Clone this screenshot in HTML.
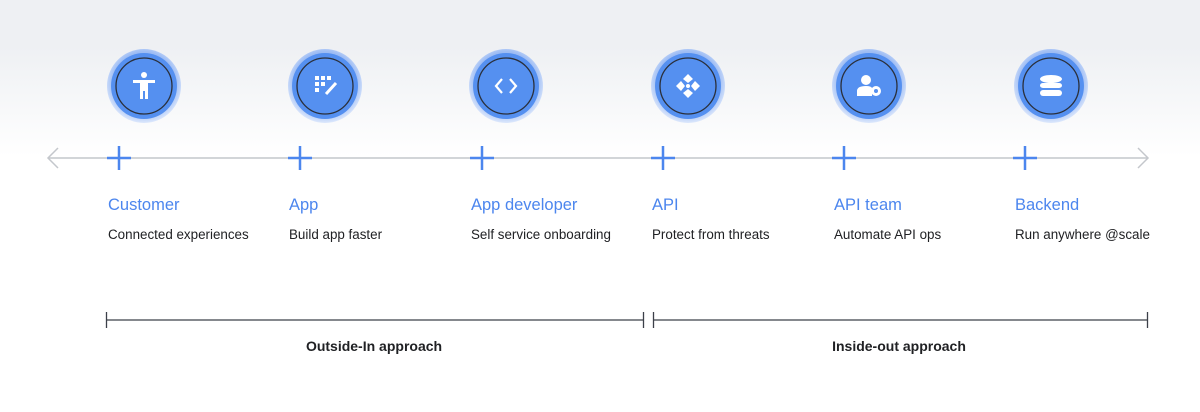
<!DOCTYPE html>
<html><head><meta charset="utf-8"><style>
html,body{margin:0;padding:0;width:1200px;height:412px;overflow:hidden;background:#fff}
</style></head><body>
<svg width="1200" height="412" viewBox="0 0 1200 412" xmlns="http://www.w3.org/2000/svg" font-family="'Liberation Sans', sans-serif">
<defs>
<linearGradient id="bg" x1="0" y1="0" x2="0" y2="1">
<stop offset="0" stop-color="#eef0f3"/><stop offset="1" stop-color="#ffffff"/>
</linearGradient>
<radialGradient id="halo" cx="0.5" cy="0.45" r="0.55">
<stop offset="0.75" stop-color="#9dbcf4"/><stop offset="1" stop-color="#dde8fc"/>
</radialGradient>
</defs>
<rect x="0" y="0" width="1200" height="46" fill="#eef0f3"/>
<rect x="0" y="46" width="1200" height="110" fill="url(#bg)"/>
<line x1="48" y1="158" x2="1148" y2="158" stroke="#c4c7cc" stroke-width="1.5"/>
<polyline points="58,148 48,158 58,168" fill="none" stroke="#c4c7cc" stroke-width="1.5"/>
<polyline points="1138,148 1148,158 1138,168" fill="none" stroke="#c4c7cc" stroke-width="1.5"/>
<g stroke="#4c86ee" stroke-width="2.5">
<path d="M119 146v24M107 158h24"/>
<path d="M300 146v24M288 158h24"/>
<path d="M482 146v24M470 158h24"/>
<path d="M663 146v24M651 158h24"/>
<path d="M844 146v24M832 158h24"/>
<path d="M1025 146v24M1013 158h24"/>
</g>
<g>
<g transform="translate(144,86)"><circle r="37" fill="url(#halo)"/><circle r="33" fill="#5590f0"/><circle r="28" fill="none" stroke="#2a2f3a" stroke-width="1.3"/>
<g fill="#fff"><circle cx="0" cy="-11" r="3"/><rect x="-11" y="-6" width="22" height="3"/><rect x="-4" y="-4" width="8" height="9"/><rect x="-4" y="4" width="3" height="9"/><rect x="1" y="4" width="3" height="9"/></g></g>
<g transform="translate(325,86)"><circle r="37" fill="url(#halo)"/><circle r="33" fill="#5590f0"/><circle r="28" fill="none" stroke="#2a2f3a" stroke-width="1.3"/>
<g fill="#fff"><rect x="-10" y="-10" width="4" height="4"/><rect x="-4" y="-10" width="4" height="4"/><rect x="2" y="-10" width="4" height="4"/><rect x="-10" y="-4" width="4" height="4"/><rect x="-4" y="-4" width="4" height="4"/><rect x="-10" y="2" width="4" height="4"/></g>
<path d="M1 8 L11 -3" stroke="#fff" stroke-width="3"/></g>
<g transform="translate(506,86)"><circle r="37" fill="url(#halo)"/><circle r="33" fill="#5590f0"/><circle r="28" fill="none" stroke="#2a2f3a" stroke-width="1.3"/>
<path d="M-4 -7 L-10 0 L-4 7 M4 -7 L10 0 L4 7" fill="none" stroke="#fff" stroke-width="2.2"/></g>
<g transform="translate(688,86)"><circle r="37" fill="url(#halo)"/><circle r="33" fill="#5590f0"/><circle r="28" fill="none" stroke="#2a2f3a" stroke-width="1.3"/>
<g fill="#fff"><path d="M0 -12 L5 -7 L0 -3 L-5 -7Z"/><path d="M0 12 L5 7 L0 3 L-5 7Z"/><path d="M-12 0 L-7 -5 L-3 0 L-7 5Z"/><path d="M12 0 L7 -5 L3 0 L7 5Z"/><circle r="2"/></g></g>
<g transform="translate(869,86)"><circle r="37" fill="url(#halo)"/><circle r="33" fill="#5590f0"/><circle r="28" fill="none" stroke="#2a2f3a" stroke-width="1.3"/>
<g fill="#fff"><circle cx="-3" cy="-6" r="5"/><path d="M-12 10 V5 Q-12 0 -3 0 Q2 0 3 2 V10Z"/><circle cx="7" cy="5" r="5"/></g><circle cx="7" cy="5" r="2" fill="#5590f0"/></g>
<g transform="translate(1051,86)"><circle r="37" fill="url(#halo)"/><circle r="33" fill="#5590f0"/><circle r="28" fill="none" stroke="#2a2f3a" stroke-width="1.3"/>
<g fill="#fff"><ellipse cx="0" cy="-7" rx="11" ry="4"/><rect x="-11" y="-3" width="22" height="5" rx="3"/><rect x="-11" y="4" width="22" height="6" rx="3"/></g></g>
</g>
<g font-size="16.5" fill="#4c86ee">
<text x="108" y="210">Customer</text>
<text x="289" y="210">App</text>
<text x="471" y="210">App developer</text>
<text x="652" y="210">API</text>
<text x="834" y="210">API team</text>
<text x="1015" y="210">Backend</text>
</g>
<g font-size="13.4" fill="#202124">
<text x="108" y="239">Connected experiences</text>
<text x="289" y="239">Build app faster</text>
<text x="471" y="239">Self service onboarding</text>
<text x="652" y="239">Protect from threats</text>
<text x="834" y="239">Automate API ops</text>
<text x="1015" y="239">Run anywhere @scale</text>
</g>
<g stroke="#3c4049" stroke-width="1.3">
<line x1="106" y1="320" x2="643" y2="320"/><line x1="106.5" y1="312" x2="106.5" y2="328"/><line x1="643.5" y1="312" x2="643.5" y2="328"/>
<line x1="653" y1="320" x2="1147" y2="320"/><line x1="653.5" y1="312" x2="653.5" y2="328"/><line x1="1147.5" y1="312" x2="1147.5" y2="328"/>
</g>
<g font-size="14" font-weight="bold" fill="#202124" text-anchor="middle">
<text x="374" y="351">Outside-In approach</text>
<text x="899" y="351">Inside-out approach</text>
</g>
</svg>
</body></html>
